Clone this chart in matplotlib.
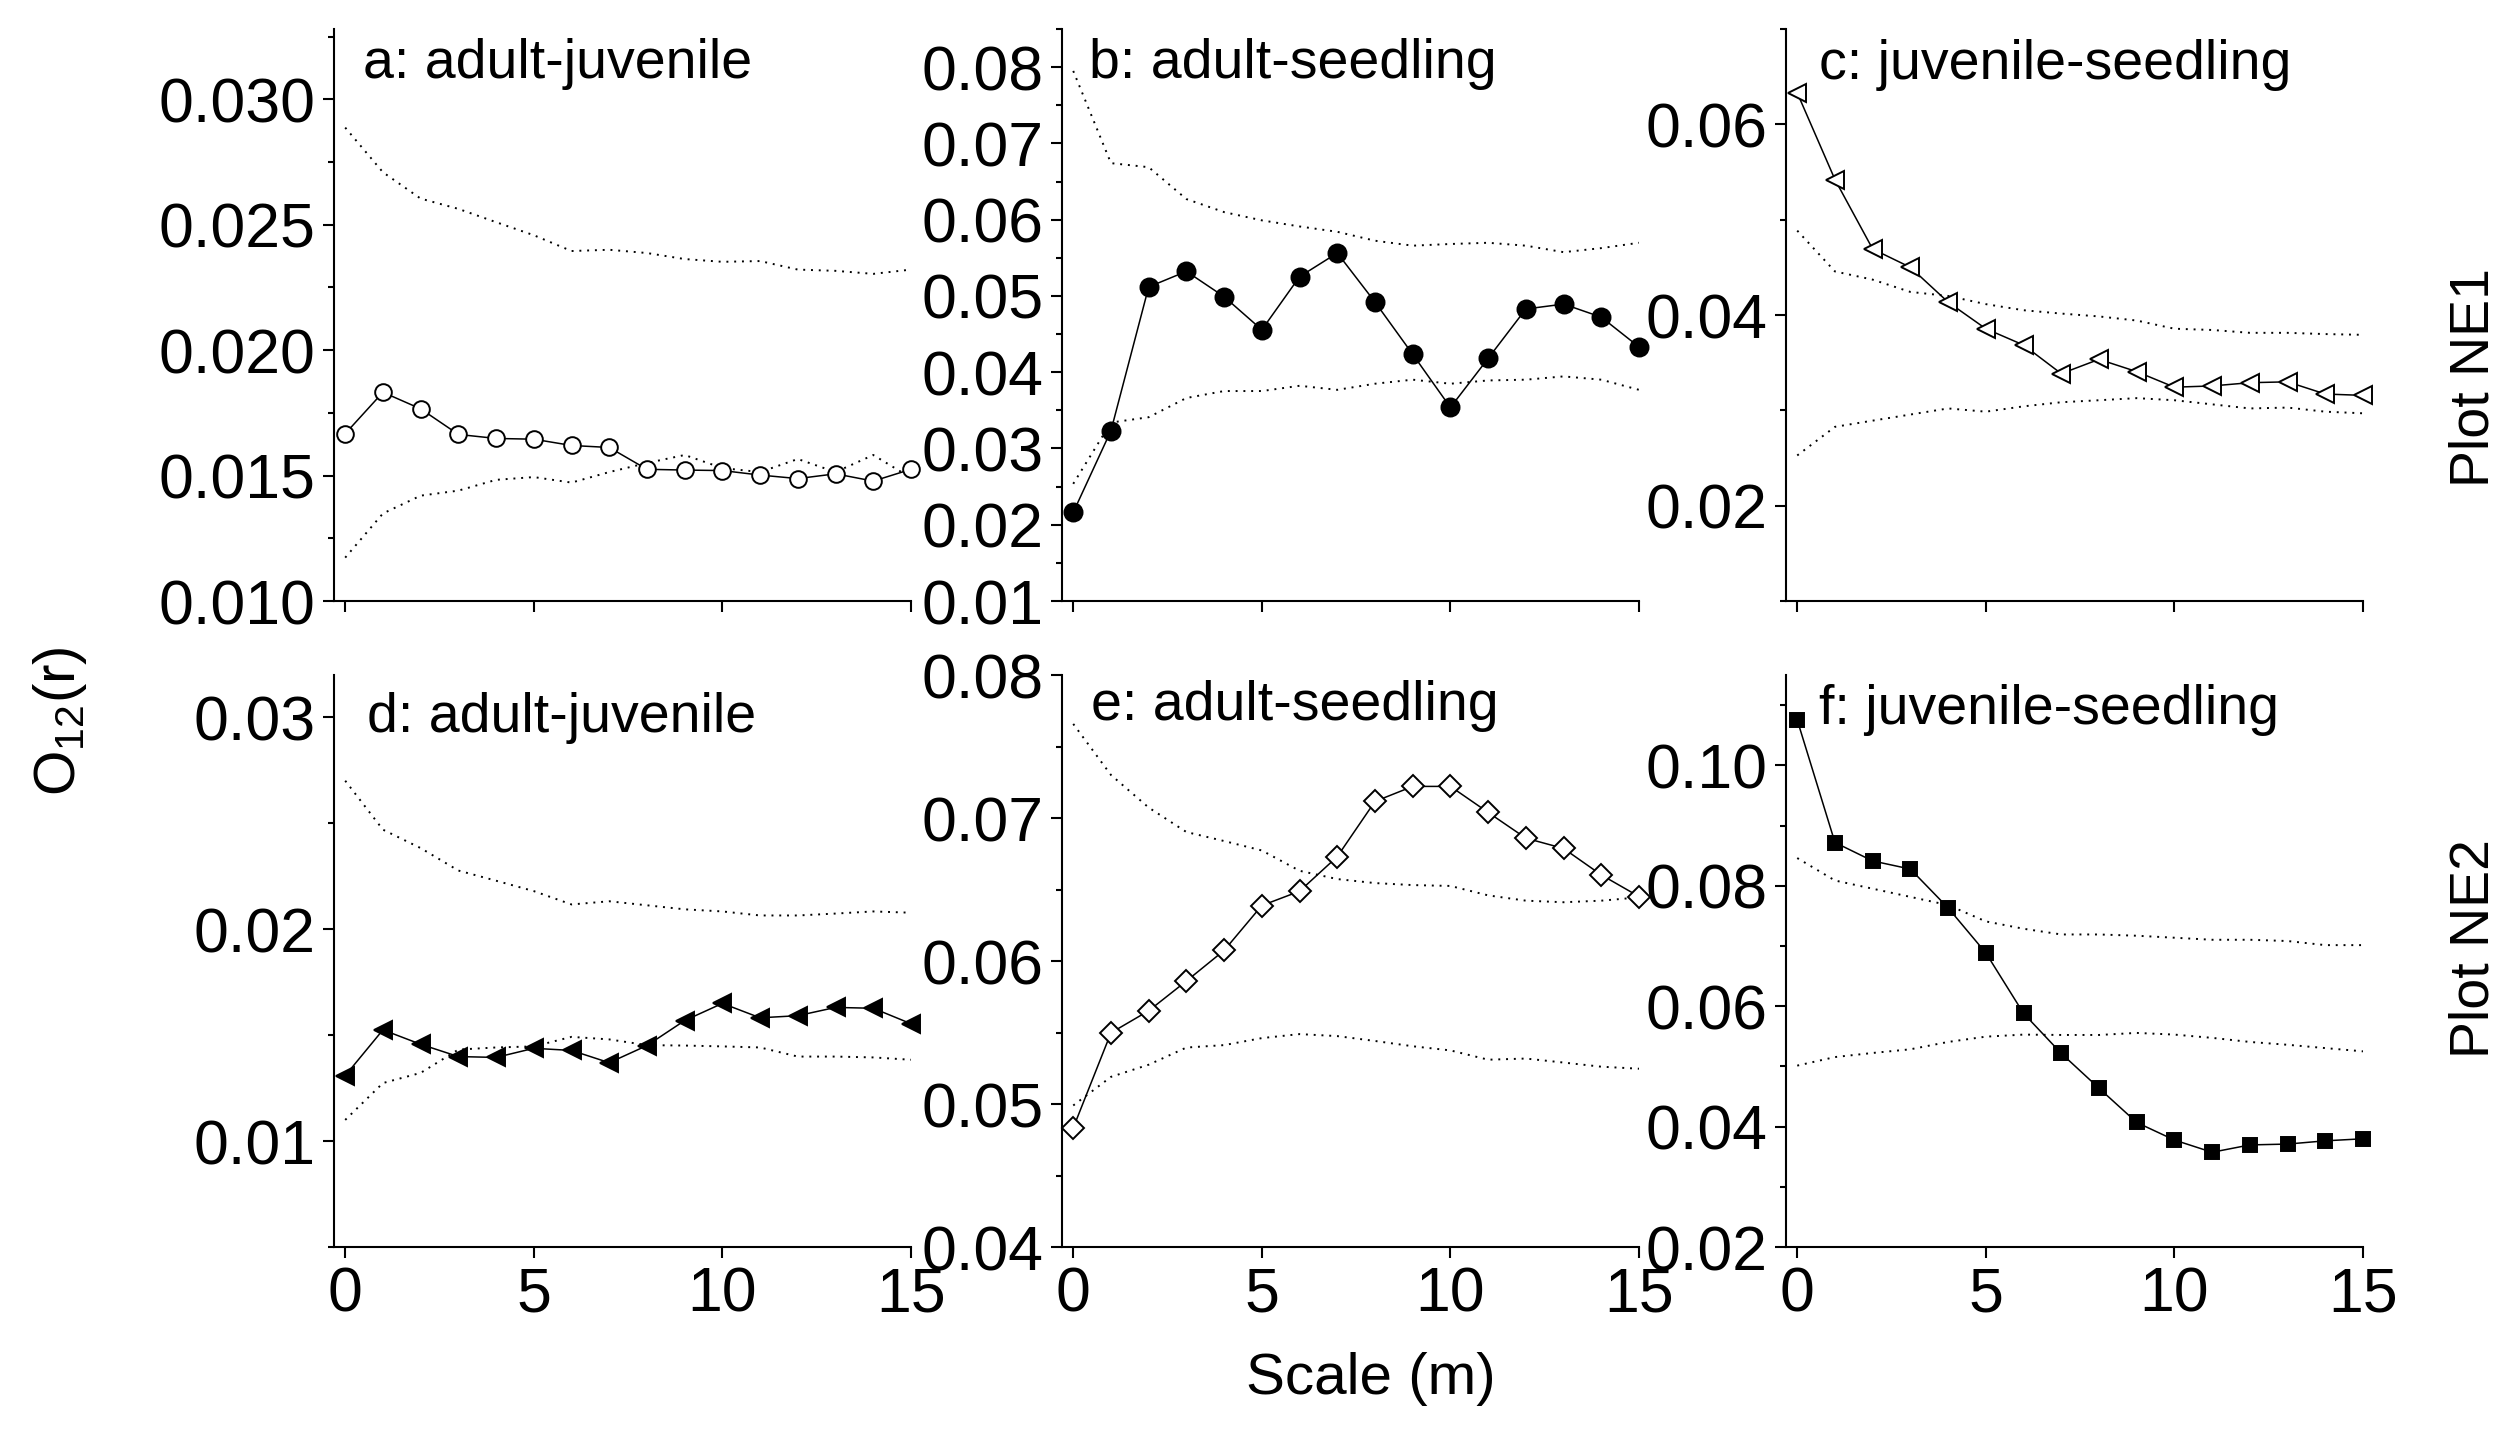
import numpy as np
import matplotlib.pyplot as plt
from matplotlib.ticker import MultipleLocator, FormatStrFormatter

plt.rcParams['font.family'] = ['Liberation Sans', 'DejaVu Sans']
plt.rcParams['mathtext.fontset'] = 'custom'
plt.rcParams['mathtext.rm'] = 'Liberation Sans'

scale = np.arange(16)

# observed O12(r) per panel
obs_a = [0.01667, 0.01832, 0.01766, 0.01664, 0.01648, 0.01645, 0.01620, 0.01612,
         0.01525, 0.01522, 0.01520, 0.01502, 0.01488, 0.01507, 0.01478, 0.01525]
obs_b = [0.02162, 0.03233, 0.05118, 0.05322, 0.04990, 0.04556, 0.05252, 0.05563,
         0.04920, 0.04235, 0.03538, 0.04181, 0.04829, 0.04893, 0.04722, 0.04331]
obs_c = [0.06330, 0.05421, 0.04692, 0.04500, 0.04135, 0.03856, 0.03685, 0.03385,
         0.03535, 0.03406, 0.03243, 0.03256, 0.03290, 0.03299, 0.03171, 0.03157]
obs_d = [0.01309, 0.01525, 0.01457, 0.01399, 0.01395, 0.01438, 0.01428, 0.01370,
         0.01451, 0.01569, 0.01650, 0.01582, 0.01592, 0.01631, 0.01627, 0.01554]
obs_e = [0.04833, 0.05498, 0.05652, 0.05860, 0.06074, 0.06388, 0.06488, 0.06730,
         0.07116, 0.07221, 0.07221, 0.07039, 0.06859, 0.06787, 0.06602, 0.06451]
obs_f = [0.10753, 0.08718, 0.08412, 0.08277, 0.07632, 0.06885, 0.05881, 0.05216,
         0.04638, 0.04069, 0.03777, 0.03574, 0.03696, 0.03710, 0.03764, 0.03798]

# simulation envelopes (upper / lower)
hi_a = [0.02887, 0.02709, 0.02604, 0.02563, 0.02510, 0.02458, 0.02395, 0.02400,
        0.02387, 0.02363, 0.02352, 0.02355, 0.02321, 0.02316, 0.02304, 0.02321]
lo_a = [0.01173, 0.01349, 0.01420, 0.01440, 0.01483, 0.01494, 0.01472, 0.01514,
        0.01550, 0.01582, 0.01530, 0.01514, 0.01566, 0.01514, 0.01582, 0.01491]
hi_b = [0.07950, 0.06741, 0.06688, 0.06270, 0.06099, 0.05991, 0.05911, 0.05841,
        0.05724, 0.05659, 0.05681, 0.05697, 0.05659, 0.05574, 0.05627, 0.05697]
lo_b = [0.02537, 0.03340, 0.03410, 0.03662, 0.03753, 0.03753, 0.03822, 0.03769,
        0.03849, 0.03902, 0.03849, 0.03892, 0.03902, 0.03945, 0.03902, 0.03769]
hi_c = [0.04885, 0.04457, 0.04371, 0.04242, 0.04200, 0.04114, 0.04050, 0.04015,
        0.03985, 0.03942, 0.03856, 0.03843, 0.03813, 0.03813, 0.03800, 0.03792]
lo_c = [0.02527, 0.02827, 0.02892, 0.02956, 0.03020, 0.02986, 0.03042, 0.03085,
        0.03106, 0.03128, 0.03106, 0.03063, 0.03020, 0.03029, 0.02986, 0.02969]
hi_d = [0.02701, 0.02470, 0.02383, 0.02277, 0.02229, 0.02180, 0.02117, 0.02132,
        0.02113, 0.02094, 0.02084, 0.02065, 0.02065, 0.02074, 0.02084, 0.02078]
lo_d = [0.01100, 0.01274, 0.01322, 0.01432, 0.01442, 0.01447, 0.01492, 0.01480,
        0.01453, 0.01451, 0.01447, 0.01442, 0.01399, 0.01399, 0.01395, 0.01384]
hi_e = [0.07658, 0.07301, 0.07073, 0.06902, 0.06839, 0.06773, 0.06631, 0.06573,
        0.06545, 0.06531, 0.06525, 0.06459, 0.06422, 0.06411, 0.06422, 0.06445]
lo_e = [0.04990, 0.05190, 0.05275, 0.05395, 0.05412, 0.05461, 0.05489, 0.05475,
        0.05441, 0.05404, 0.05375, 0.05310, 0.05318, 0.05290, 0.05261, 0.05247]
hi_f = [0.08460, 0.08087, 0.07951, 0.07815, 0.07679, 0.07408, 0.07286, 0.07191,
        0.07191, 0.07170, 0.07137, 0.07103, 0.07103, 0.07082, 0.07014, 0.07014]
lo_f = [0.05013, 0.05155, 0.05223, 0.05284, 0.05406, 0.05494, 0.05528, 0.05522,
        0.05522, 0.05556, 0.05528, 0.05474, 0.05406, 0.05359, 0.05304, 0.05250]

titles = ['a: adult-juvenile', 'b: adult-seedling', 'c: juvenile-seedling',
          'd: adult-juvenile', 'e: adult-seedling', 'f: juvenile-seedling']
row_labels = ['Plot NE1', 'Plot NE2']

panels = [
    # obs, hi, lo, marker, face, ms, ylim, major, minor, fmt, title pos
    (obs_a, hi_a, lo_a, 'o', 'white', 12, (0.010, 0.0328), 0.005, 0.0025, '%.3f', (0.05, 0.915)),
    (obs_b, hi_b, lo_b, 'o', 'black', 13, (0.010, 0.085), 0.01, 0.005, '%.2f', (0.047, 0.915)),
    (obs_c, hi_c, lo_c, '<', 'white', 13, (0.010, 0.070), 0.02, 0.01, '%.2f', (0.057, 0.912)),
    (obs_d, hi_d, lo_d, '<', 'black', 13, (0.005, 0.032), 0.01, 0.005, '%.2f', (0.057, 0.90)),
    (obs_e, hi_e, lo_e, 'D', 'white', 11, (0.040, 0.080), 0.01, 0.005, '%.2f', (0.05, 0.921)),
    (obs_f, hi_f, lo_f, 's', 'black', 10, (0.020, 0.115), 0.02, 0.01, '%.2f', (0.057, 0.914)),
]

fig = plt.figure(figsize=(25.2, 14.42), dpi=100)
lefts = [0.1325, 0.4214, 0.7087]
bottoms = [0.5832, 0.1352]
w, h = 0.229, 0.3967

for i, (obs, hi, lo, mk, fc, ms, ylim, major, minor, fmt, tpos) in enumerate(panels):
    r, c = divmod(i, 3)
    ax = fig.add_axes([lefts[c], bottoms[r], w, h])
    ax.plot(scale, hi, color='black', lw=1.4, ls=(0, (1, 3)))
    ax.plot(scale, lo, color='black', lw=1.4, ls=(0, (1, 3)))
    ax.plot(scale, obs, color='black', lw=1.1, marker=mk, ms=ms,
            mfc=fc, mec='black', mew=1.4, clip_on=False, zorder=3)
    ax.set_xlim(-0.3, 15)
    ax.set_ylim(*ylim)
    ax.xaxis.set_major_locator(MultipleLocator(5))
    ax.yaxis.set_major_locator(MultipleLocator(major))
    ax.yaxis.set_minor_locator(MultipleLocator(minor))
    ax.yaxis.set_major_formatter(FormatStrFormatter(fmt))
    for s in ['top', 'right']:
        ax.spines[s].set_visible(False)
    for s in ['left', 'bottom']:
        ax.spines[s].set_linewidth(1.5)
    ax.tick_params(axis='both', which='major', direction='out', length=8,
                   width=1.5, labelsize=45, pad=5)
    ax.tick_params(axis='y', which='minor', direction='out', length=4.5, width=1.5)
    if r == 0:
        ax.tick_params(axis='x', labelbottom=False)
    ax.text(tpos[0], tpos[1], titles[i], transform=ax.transAxes,
            fontsize=40, va='baseline', ha='left')

fig.text(0.024, 0.5, r'O$_{\mathregular{12}}$(r)', rotation=90,
         fontsize=42, ha='center', va='center')
fig.text(0.544, 0.044, 'Scale (m)', fontsize=42, ha='center', va='center')
fig.text(0.982, 0.738, row_labels[0], rotation=90, fontsize=40, ha='center', va='center')
fig.text(0.982, 0.342, row_labels[1], rotation=90, fontsize=40, ha='center', va='center')

fig.savefig('out.png', dpi=100)
